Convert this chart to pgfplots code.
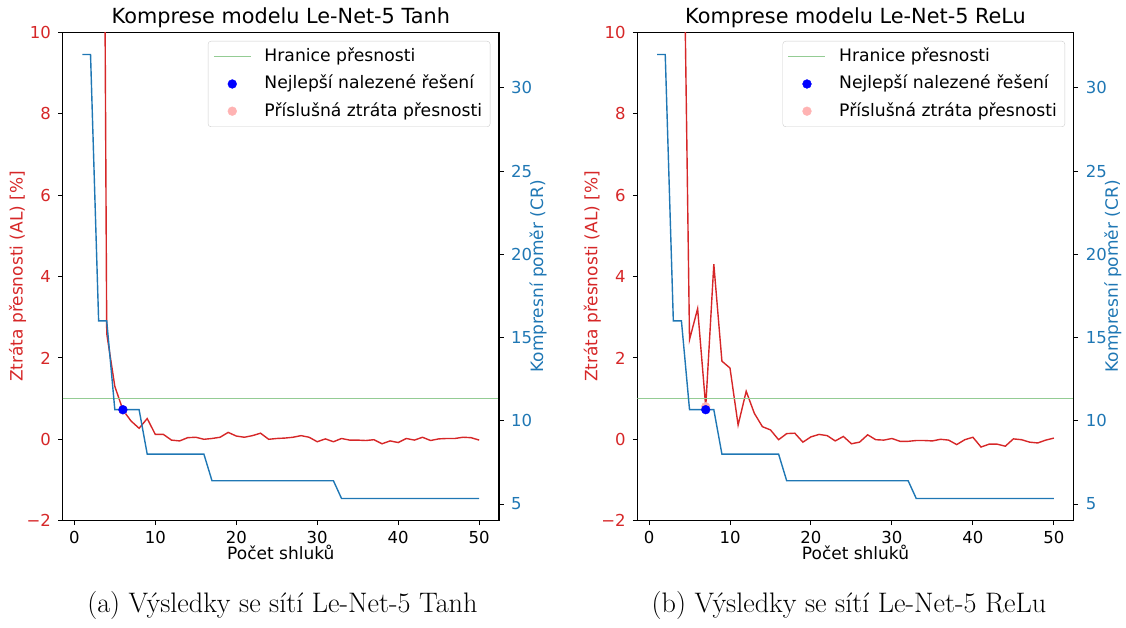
\documentclass[border=0pt]{standalone}
\usepackage{fontspec}
\usepackage{pgfplots}
\pgfplotsset{compat=1.18}
\usepackage{pgfplotstable}
\newfontfamily\dejavu{DejaVu Sans}
\definecolor{tabred}{RGB}{214,39,40}
\definecolor{tabblue}{RGB}{31,119,180}
\definecolor{lgreen}{RGB}{148,204,148}
\definecolor{lpink}{RGB}{255,179,179}
\definecolor{mblue}{RGB}{0,0,255}
\definecolor{leggray}{RGB}{204,204,204}

\pgfplotstableread{
k al cr
1 90 32
2 80 32
3 40 16
4 2.6 16
5 1.30 10.6667
6 0.72 10.6667
7 0.45 10.6667
8 0.27 10.6667
9 0.51 8
10 0.12 8
11 0.12 8
12 -0.02 8
13 -0.04 8
14 0.04 8
15 0.05 8
16 0.0 8
17 0.02 6.4
18 0.05 6.4
19 0.17 6.4
20 0.08 6.4
21 0.05 6.4
22 0.09 6.4
23 0.15 6.4
24 0.0 6.4
25 0.02 6.4
26 0.03 6.4
27 0.05 6.4
28 0.09 6.4
29 0.05 6.4
30 -0.06 6.4
31 0.01 6.4
32 -0.06 6.4
33 0.02 5.3333
34 -0.02 5.3333
35 -0.02 5.3333
36 -0.03 5.3333
37 -0.01 5.3333
38 -0.11 5.3333
39 -0.04 5.3333
40 -0.08 5.3333
41 0.02 5.3333
42 -0.02 5.3333
43 0.05 5.3333
44 -0.03 5.3333
45 0.01 5.3333
46 0.02 5.3333
47 0.02 5.3333
48 0.05 5.3333
49 0.04 5.3333
50 -0.02 5.3333
}\datatanh

\pgfplotstableread{
k al cr
1 90 32
2 85 32
3 60 16
4 17 16
5 2.45 10.6667
6 3.21 10.6667
7 0.80 10.6667
8 4.30 10.6667
9 1.92 8
10 1.75 8
11 0.35 8
12 1.18 8
13 0.64 8
14 0.31 8
15 0.23 8
16 -0.01 8
17 0.14 6.4
18 0.15 6.4
19 -0.07 6.4
20 0.06 6.4
21 0.12 6.4
22 0.09 6.4
23 -0.04 6.4
24 0.07 6.4
25 -0.11 6.4
26 -0.07 6.4
27 0.11 6.4
28 -0.01 6.4
29 -0.02 6.4
30 0.02 6.4
31 -0.05 6.4
32 -0.05 6.4
33 -0.03 5.3333
34 -0.03 5.3333
35 -0.04 5.3333
36 0.0 5.3333
37 -0.02 5.3333
38 -0.13 5.3333
39 -0.01 5.3333
40 0.05 5.3333
41 -0.19 5.3333
42 -0.12 5.3333
43 -0.12 5.3333
44 -0.17 5.3333
45 0.01 5.3333
46 -0.01 5.3333
47 -0.07 5.3333
48 -0.09 5.3333
49 -0.02 5.3333
50 0.03 5.3333
}\datarelu

\pgfplotsset{
  base/.style={
    scale only axis, width=436.4pt, height=488.4pt,
    anchor=south west,
    xmin=-1.45, xmax=52.45,
    no markers,
    every tick label/.append style={font=\dejavu\fontsize{16.5}{20}\selectfont},
    label style={font=\dejavu\fontsize{17}{20}\selectfont},
    title style={font=\dejavu\fontsize{20.8}{24}\selectfont, at={(axis description cs:0.5,1)}, anchor=base, yshift=3pt},
    axis line style={line width=1.1pt},
    tick style={line width=1pt, black},
    tick align=outside, major tick length=4.5pt,
    /pgf/number format/assume math mode=true,
  },
  leftax/.style={base,
    ymin=-2, ymax=10, ytick={-2,0,...,10}, yticklabels={−2,0,2,4,6,8,10},
    xtick={0,10,...,50}, tick pos=left,
    yticklabel style={color=tabred, anchor=east, inner sep=0pt, xshift=-7pt},
    xticklabel style={anchor=north, inner sep=0pt, yshift=-6.3pt},
    ylabel style={color=tabred, at={(axis description cs:-0.1031,0.5)}, anchor=center},
    xlabel style={at={(axis description cs:0.5,0)}, anchor=base, yshift=-39.3pt},
    xlabel={Počet shluků},
    ylabel={Ztráta přesnosti (AL) [\%]},
  },
  rightax/.style={base,
    ymin=4, ymax=33.3333, ytick={5,10,...,30},
    axis x line=none, axis y line*=right,
    yticklabel style={color=tabblue, anchor=west, inner sep=0pt, xshift=7.4pt},
    ylabel style={color=tabblue, at={(axis description cs:1.0894,0.5)}, anchor=center},
    ylabel={Kompresní poměr (CR)},
    legend style={at={(1,1)}, anchor=north east, xshift=-8.7pt, yshift=-8.7pt,
      draw=leggray, rounded corners=3pt, fill=white,
      font=\dejavu\fontsize{17.2}{20}\selectfont,
      inner xsep=5pt, inner ysep=2pt, column sep=10pt,
      nodes={inner xsep=3pt, inner ysep=4.6pt, text height=14pt, text depth=4pt}},
    legend cell align=left,
    legend image code/.code={\draw[mark repeat=2,mark phase=2,##1] plot coordinates {(0pt,0pt)(18.5pt,0pt)(37pt,0pt)};},
  },
}

\begin{document}
\begin{tikzpicture}
\useasboundingbox (0,0) rectangle (1126pt,628pt);

% ---------- Panel (a) ----------
\begin{axis}[leftax, at={(62.6pt,107.3pt)}, title={Komprese modelu Le-Net-5 Tanh}]
\addplot[tabred, line width=1.4pt] table[x=k,y=al] {\datatanh};
\addplot[lgreen, line width=1.4pt] coordinates {(-1.45,1) (52.45,1)};
\addplot[only marks, mark=*, mark size=4.4pt, color=lpink] coordinates {(6,0.72)};
\end{axis}
\begin{axis}[rightax, at={(62.6pt,107.3pt)}]
\addlegendimage{lgreen, line width=1.4pt}
\addlegendentry{Hranice přesnosti}
\addplot[tabblue, line width=1.4pt, forget plot] table[x=k,y=cr] {\datatanh};
\addplot[only marks, mark=*, mark size=4.4pt, color=mblue] coordinates {(6,10.6667)};
\addlegendentry{Nejlepší nalezené řešení}
\addlegendimage{only marks, mark=*, mark size=4.4pt, color=lpink}
\addlegendentry{Příslušná ztráta přesnosti}
\end{axis}

% ---------- Panel (b) ----------
\begin{axis}[leftax, at={(637.3pt,107.3pt)}, title={Komprese modelu Le-Net-5 ReLu}]
\addplot[tabred, line width=1.4pt] table[x=k,y=al] {\datarelu};
\addplot[lgreen, line width=1.4pt] coordinates {(-1.45,1) (52.45,1)};
\addplot[only marks, mark=*, mark size=4.4pt, color=lpink] coordinates {(7,0.80)};
\end{axis}
\begin{axis}[rightax, at={(637.3pt,107.3pt)}]
\addlegendimage{lgreen, line width=1.4pt}
\addlegendentry{Hranice přesnosti}
\addplot[tabblue, line width=1.4pt, forget plot] table[x=k,y=cr] {\datarelu};
\addplot[only marks, mark=*, mark size=4.4pt, color=mblue] coordinates {(7,10.6667)};
\addlegendentry{Nejlepší nalezené řešení}
\addlegendimage{only marks, mark=*, mark size=4.4pt, color=lpink}
\addlegendentry{Příslušná ztráta přesnosti}
\end{axis}

% ---------- Captions ----------
\node[anchor=base, font=\fontsize{28.2}{33}\selectfont] at (282.4pt,15pt) {(a) Výsledky se sítí Le-Net-5 Tanh};
\node[anchor=base, font=\fontsize{28.2}{33}\selectfont] at (849pt,15pt) {(b) Výsledky se sítí Le-Net-5 ReLu};
\end{tikzpicture}
\end{document}
